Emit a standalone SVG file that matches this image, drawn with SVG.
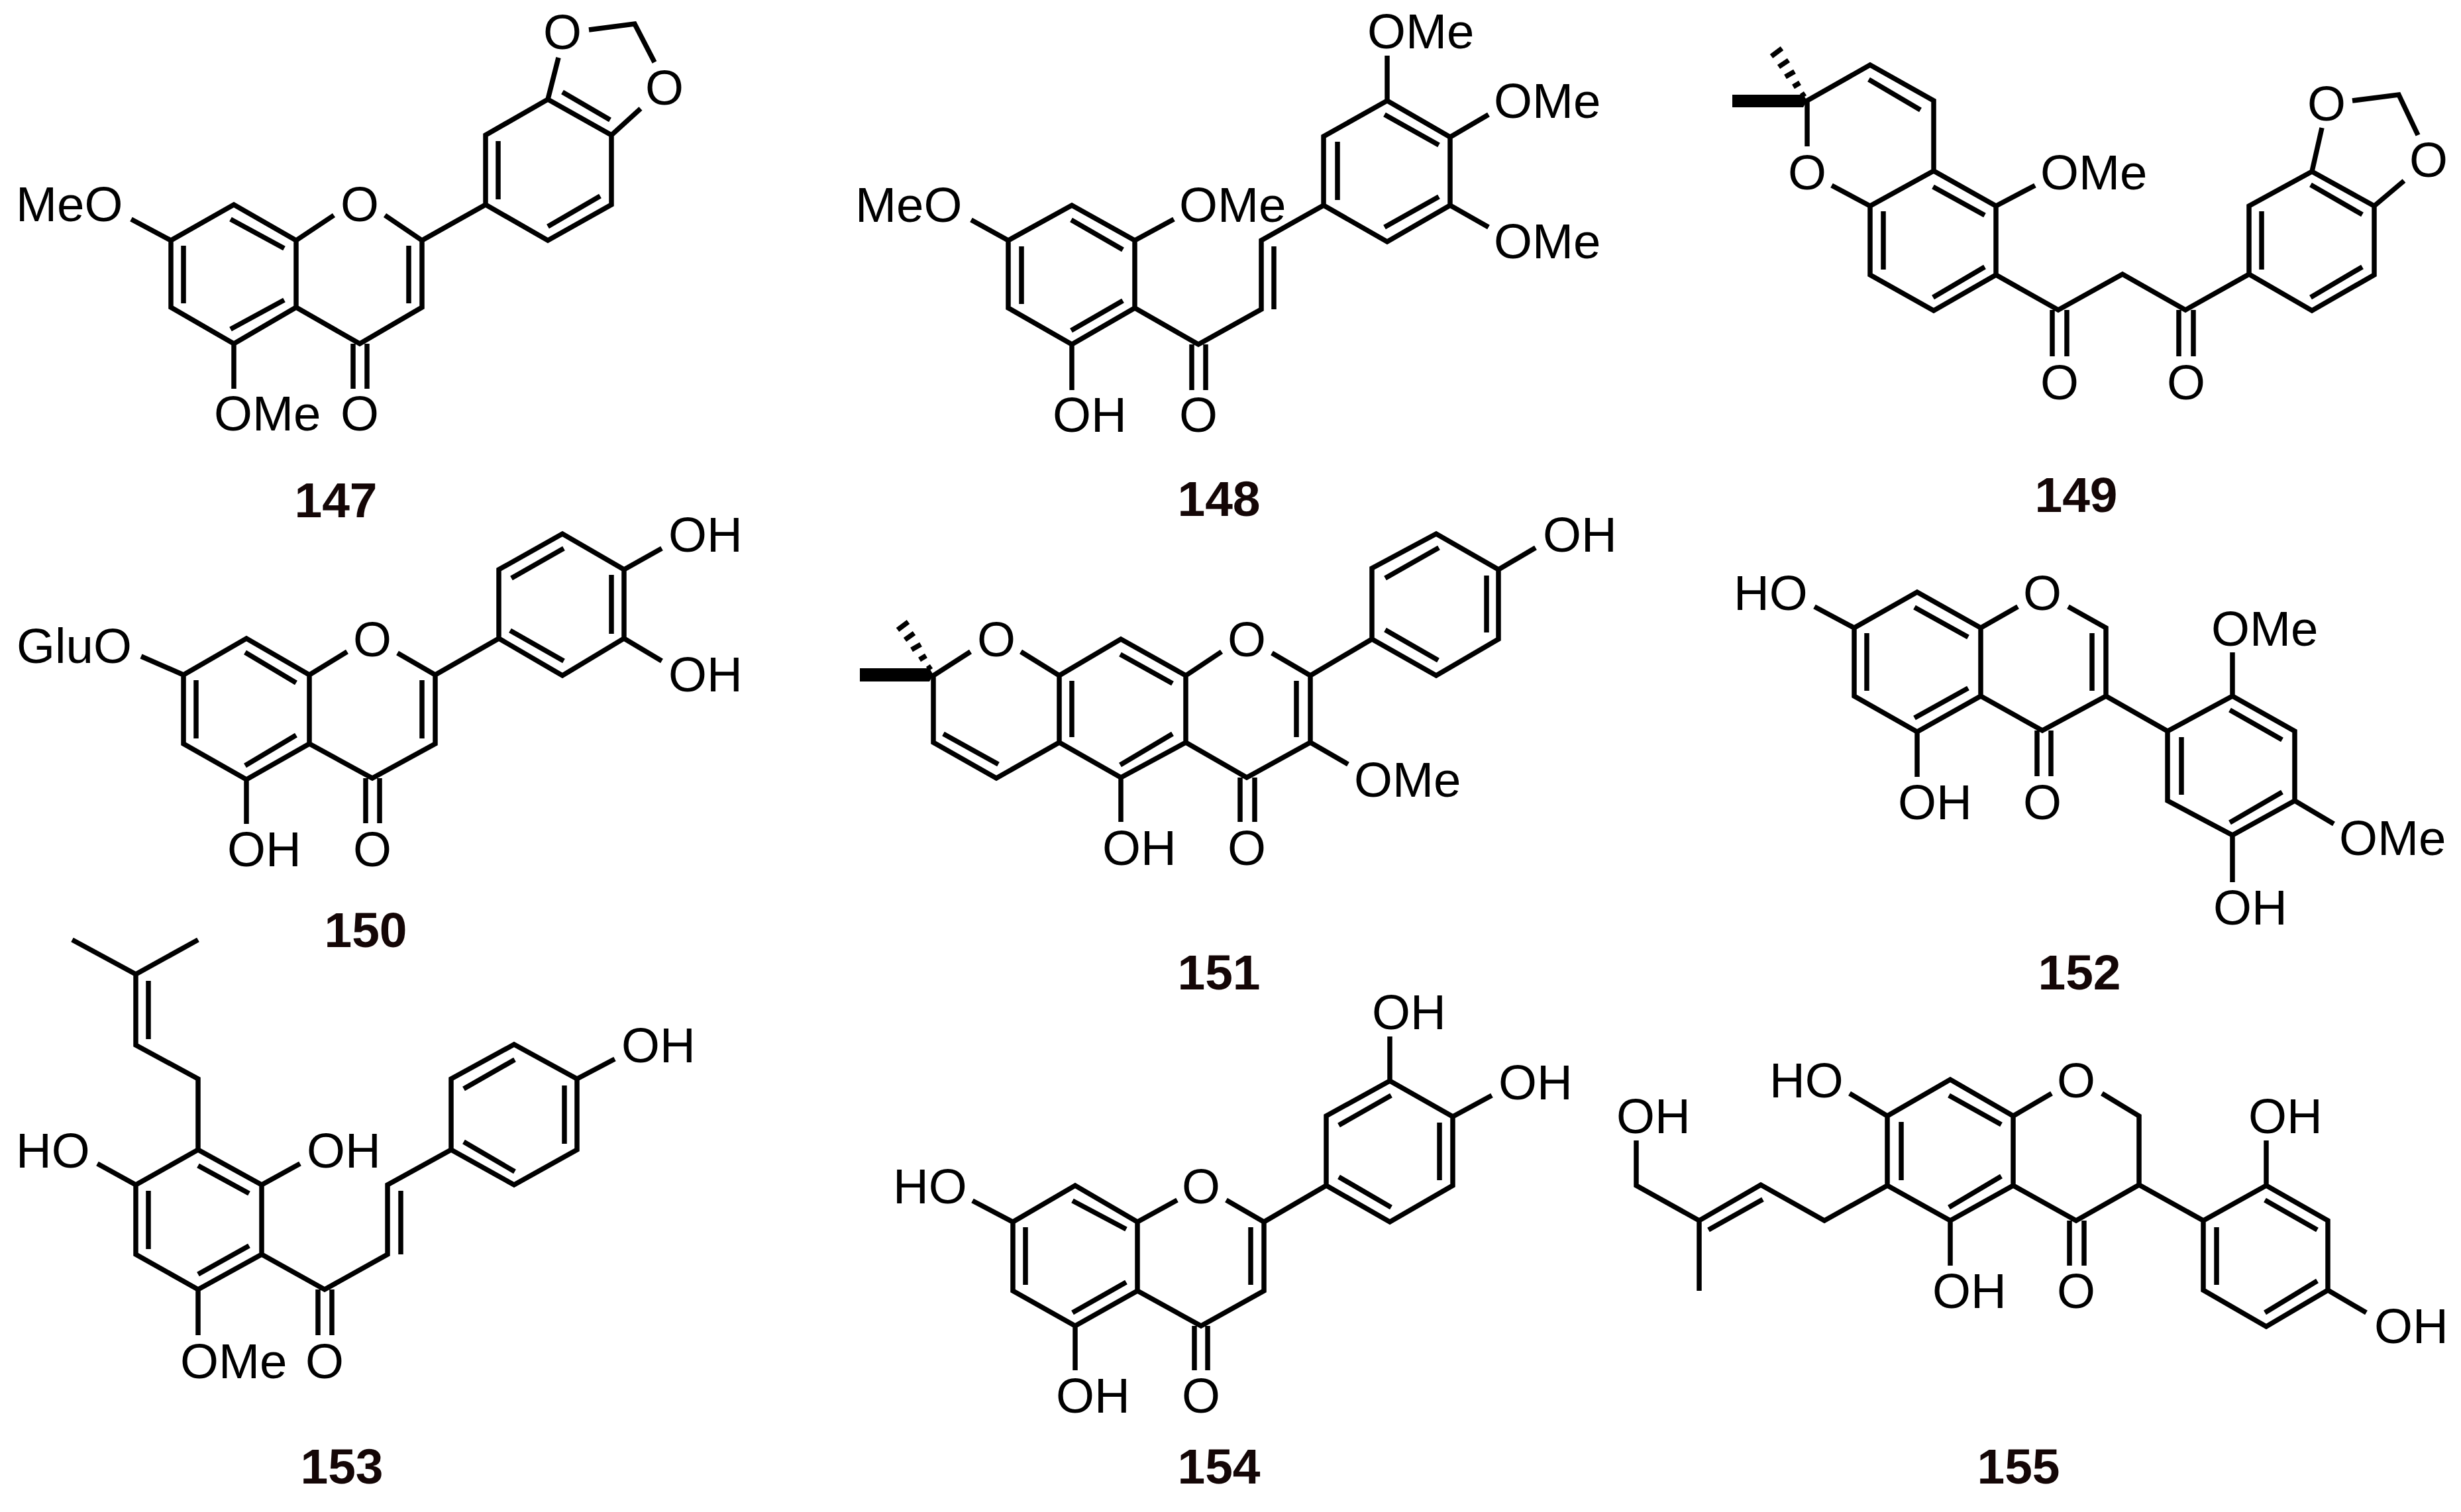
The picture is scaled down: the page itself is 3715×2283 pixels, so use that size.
<svg xmlns="http://www.w3.org/2000/svg" width="3715" height="2283" viewBox="0 0 3715 2283">
<style>
.b{fill:none;stroke:#000;stroke-width:7.5;stroke-linejoin:miter;stroke-miterlimit:10}
.h{fill:none;stroke:#000;stroke-width:7.5}
.w{fill:#000}
text{font-family:"Liberation Sans",Arial,sans-serif;fill:#000}
.a{font-size:74.5px}
.m{font-size:74.5px;text-anchor:middle}
.n{font-size:75px;font-weight:700;text-anchor:middle;fill:#140606}
</style>
<rect width="3715" height="2283" fill="#fff"/>
<g id="connectors">
<path id="bonds-147" class="b" d="M447 363L353 309L258 363L258 464L353 519L447 464ZM447 464L543 519L637 464L637 363L733 309L733 204L827 150L923 204L923 309L827 363L733 309M198 331L258 363M447 363L504 325M581 325L637 363M353 519V587M533 519V587M554 519V587M827 150L843 87M889 45L958 36L988 94M967 164L923 204M348 331L429 375M277 371V458M429 453L348 497M617 371V458M752 213V301M849 139L921 181M906 296L827 342"/>
<path id="bonds-148" class="b" d="M1713 363L1618 310L1522 363L1522 465L1618 520L1713 465ZM1713 465L1809 520L1904 467L1904 363L1998 310L1998 206L2094 152L2189 207L2189 310L2094 365L1998 310M2094 152V84M2189 207L2247 173M2189 310L2247 343M1713 363L1772 331M1522 363L1466 332M1618 520V589M1799 520V589M1820 520V589M1617 332L1695 377M1542 372V459M1695 454L1617 499M1923 372V467M2019 214V302M2090 173L2172 219M2172 297L2090 343"/>
<path id="bonds-149" class="b" d="M2728 221V152L2823 98L2919 152V258L3013 311V415L2919 469L2823 415V311L2919 258M3013 311L3072 280M2765 280L2823 311M3013 415L3107 468L3204 414L3299 468L3395 414V311L3490 259L3584 311V415L3490 469L3395 414M3098 468V538M3120 468V538M3289 468V538M3311 468V538M3490 259L3505 193M3551 152L3621 143L3650 204M3629 273L3584 311M2821 120L2899 166M2918 282L2996 325M2843 319V407M2996 403L2918 449M3414 319V407M3488 279L3566 324M3566 403L3488 449"/>
<path id="wedge-149" class="w" d="M2615 143H2722L2728 152L2722 162H2615Z"/>
<path id="hash-149" class="h" d="M2719 145L2725 141M2707 131L2717 125M2695 116L2709 108M2685 101L2700 91M2674 85L2690 73"/>
<path id="bonds-150" class="b" d="M467 1019L372 964L277 1019V1123L372 1177L467 1123ZM467 1123L562 1175L657 1123V1019L753 964V860L849 806L942 860V964L849 1020L753 964M942 860L999 828M942 964L999 998M277 1019L213 991M467 1019L524 984M600 986L657 1019M372 1177V1244M552 1175V1243M573 1175V1243M370 985L447 1031M296 1027V1115M447 1110L370 1156M637 1027V1115M772 873L851 828M923 868V957M770 952L851 998"/>
<path id="bonds-151" class="b" d="M1465 984L1409 1020V1121L1504 1175L1599 1121V1020L1692 965L1790 1020V1121L1692 1174L1599 1121M1541 984L1599 1020M1790 1020L1844 984M1920 986L1978 1020V1121L1882 1174L1790 1121M1978 1020L2071 965V858L2168 806L2262 860V965L2168 1020L2071 965M2262 860L2318 827M1978 1121L2035 1154M1692 1174V1241M1872 1174V1241M1894 1174V1241M1618 1028V1113M1691 988L1770 1032M1770 1108L1691 1155M1957 1028V1113M1424 1108L1507 1154M2091 873L2172 827M2244 869V955M2091 951L2171 997"/>
<path id="wedge-151" class="w" d="M1298 1009H1403L1409 1019L1403 1029H1298Z"/>
<path id="hash-151" class="h" d="M1400 1010L1406 1006M1388 996L1398 990M1376 981L1390 973M1366 966L1380 956M1355 951L1371 939"/>
<path id="bonds-152" class="b" d="M2990 948L2894 894L2799 948V1051L2894 1105L2990 1051ZM2990 1051L3083 1103L3179 1051V948L3122 916M3179 1051L3272 1104V1209L3370 1261L3464 1209V1104L3370 1051L3272 1104M2799 948L2739 916M2990 948L3046 916M2894 1105V1173M3075 1103V1172M3096 1103V1172M3370 1051V985M3464 1209L3523 1244M3370 1261V1332M2890 917L2971 962M2818 956V1043M2971 1039L2890 1084M3158 956V1043M3366 1072L3445 1117M3293 1113V1200M3445 1196L3366 1242"/>
<path id="bonds-153" class="b" d="M109 1419L205 1471L299 1419M205 1471V1578L299 1629V1736L395 1789V1894L299 1947L205 1894V1789L299 1736M205 1789L147 1757M395 1789L453 1757M299 1947V2016M395 1894L490 1947L585 1894V1789L681 1736V1629L776 1577L871 1629V1736L776 1789L681 1736M871 1629L928 1599M480 1947V2016M501 1947V2016M224 1481V1569M299 1760L376 1802M224 1798V1886M376 1881L299 1924M605 1798V1894M700 1644L777 1600M852 1639V1727M700 1724L777 1769"/>
<path id="bonds-154" class="b" d="M1717 1845L1623 1790L1529 1845V1949L1623 2002L1717 1949ZM1717 1949L1813 2002L1908 1949V1845L2002 1790V1685L2098 1632L2193 1686V1790L2098 1845L2002 1790M1529 1845L1468 1813M1717 1845L1777 1812M1851 1812L1908 1845M2098 1632V1565M2193 1686L2252 1654M1623 2002V2069M1803 2002V2069M1823 2002V2069M1619 1813L1700 1856M1548 1853V1940M1700 1936L1619 1982M1888 1853V1940M2021 1699L2100 1654M2173 1695V1782M2021 1777L2100 1823"/>
<path id="bonds-155" class="b" d="M2470 1722V1790L2565 1843L2658 1789L2754 1843L2849 1790V1685L2944 1630L3039 1685V1790L2944 1843L2849 1790M2565 1843V1949M2849 1685L2792 1651M3039 1685L3097 1651M3173 1651L3229 1685V1789L3134 1843L3039 1790M3229 1789L3326 1843V1948L3421 2003L3514 1948V1843L3421 1790L3326 1843M3421 1790V1722M3514 1948L3572 1982M2944 1843V1911M3124 1843V1911M3146 1843V1911M2661 1811L2579 1857M2870 1694V1782M2942 1654L3021 1698M3021 1776L2942 1823M3346 1853V1940M3419 1812L3498 1857M3498 1934L3419 1982"/>
</g>
<g id="compound-147">
<text class="a" x="24" y="334">MeO</text><text class="m" x="543" y="334">O</text><text class="a" x="323" y="650">OMe</text><text class="m" x="543" y="650">O</text><text class="m" x="849" y="74">O</text><text class="m" x="1003" y="158">O</text><text class="n" x="507" y="781">147</text>
</g>
<g id="compound-148">
<text class="a" x="1291" y="335">MeO</text><text class="a" x="1780" y="335">OMe</text><text class="a" x="2064" y="73">OMe</text><text class="a" x="2255" y="178">OMe</text><text class="a" x="2255" y="390">OMe</text><text class="a" x="1589" y="652">OH</text><text class="m" x="1809" y="652">O</text><text class="n" x="1840" y="779">148</text>
</g>
<g id="compound-149">
<text class="m" x="2728" y="286">O</text><text class="a" x="3080" y="286">OMe</text><text class="m" x="3109" y="603">O</text><text class="m" x="3300" y="603">O</text><text class="m" x="3512" y="182">O</text><text class="m" x="3666" y="267">O</text><text class="n" x="3134" y="773">149</text>
</g>
<g id="compound-150">
<text class="a" x="25" y="1001">GluO</text><text class="m" x="562" y="991">O</text><text class="a" x="1009" y="833">OH</text><text class="a" x="1009" y="1044">OH</text><text class="a" x="343" y="1308">OH</text><text class="m" x="562" y="1308">O</text><text class="n" x="552" y="1430">150</text>
</g>
<g id="compound-151">
<text class="m" x="1504" y="991">O</text><text class="m" x="1882" y="991">O</text><text class="a" x="2329" y="833">OH</text><text class="a" x="2044" y="1203">OMe</text><text class="a" x="1664" y="1306">OH</text><text class="m" x="1882" y="1306">O</text><text class="n" x="1840" y="1494">151</text>
</g>
<g id="compound-152">
<text class="a" x="2617" y="921">HO</text><text class="m" x="3083" y="921">O</text><text class="a" x="3338" y="975">OMe</text><text class="a" x="3531" y="1291">OMe</text><text class="a" x="3341" y="1396">OH</text><text class="a" x="2865" y="1237">OH</text><text class="m" x="3083" y="1237">O</text><text class="n" x="3139" y="1494">152</text>
</g>
<g id="compound-153">
<text class="a" x="24" y="1763">HO</text><text class="a" x="463" y="1763">OH</text><text class="a" x="938" y="1604">OH</text><text class="a" x="272" y="2081">OMe</text><text class="m" x="490" y="2081">O</text><text class="n" x="516" y="2240">153</text>
</g>
<g id="compound-154">
<text class="a" x="1348" y="1817">HO</text><text class="m" x="1813" y="1817">O</text><text class="a" x="2071" y="1554">OH</text><text class="a" x="2262" y="1660">OH</text><text class="a" x="1594" y="2133">OH</text><text class="m" x="1813" y="2133">O</text><text class="n" x="1840" y="2240">154</text>
</g>
<g id="compound-155">
<text class="a" x="2440" y="1711">OH</text><text class="a" x="2671" y="1657">HO</text><text class="m" x="3134" y="1657">O</text><text class="a" x="3394" y="1711">OH</text><text class="a" x="2917" y="1975">OH</text><text class="m" x="3134" y="1975">O</text><text class="a" x="3584" y="2028">OH</text><text class="n" x="3047" y="2240">155</text>
</g>
</svg>
